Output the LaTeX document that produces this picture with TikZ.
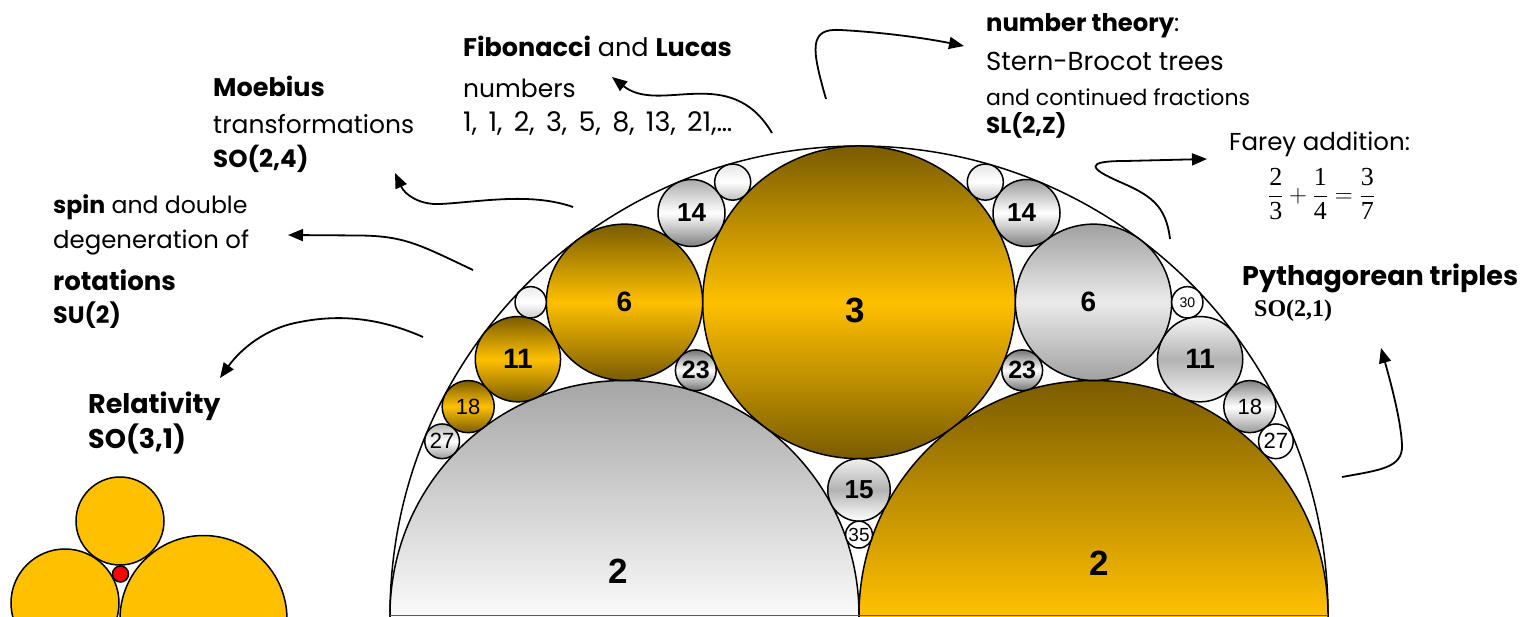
\documentclass[tikz,border=0pt]{standalone}
\usepackage{fontspec}
\setmainfont{Poppins}
\newfontfamily\arialf{Liberation Sans}
\newfontfamily\timesf{Liberation Serif}
\usetikzlibrary{arrows.meta}

\definecolor{goldD}{RGB}{122,92,0}
\definecolor{goldL}{RGB}{255,192,0}

\tikzset{
  disc/.style={circle, draw=black, line width=1.5pt, inner sep=0pt, outer sep=0pt, minimum size=#1},
  shd/.style n args={3}{top color=#1, bottom color=#3, middle color=#2},
  gold/.style={shd={goldD}{goldL}{goldD}},
  lb/.style={font=\arialf\bfseries\fontsize{#1}{#1}\selectfont, inner sep=0pt},
  lr/.style={font=\arialf\fontsize{#1}{#1}\selectfont, inner sep=0pt},
  txt/.style={anchor=base west, inner sep=0pt, font=\fontsize{#1}{#1}\selectfont},
  txt/.default=24,
  arr/.style={line width=1.8pt, -{Triangle[length=15pt,width=12pt]}},
}

\begin{document}
\begin{tikzpicture}[x=1pt, y=-1pt]
\useasboundingbox (0,0) rectangle (1529,616);
\clip (0,0) rectangle (1529,616);

% ---- circle packing ----
\node[disc=938pt] (outer) at (859,615) {};
\node[disc=469pt, shd={black!35}{black!2}{black!35}] (c2l) at (624.5,615) {};
\node[disc=469pt, gold] (c2r) at (1093.5,615) {};
\node[disc=312.7pt, gold] (c3) at (859,302.3) {};
\node[disc=156.3pt, gold] (c6l) at (624.5,302.3) {};
\node[disc=156.3pt, shd={black!37}{black!8}{black!37}] (c6r) at (1093.5,302.3) {};
\node[disc=85.3pt, gold] (c11l) at (517.9,359.2) {};
\node[disc=85.3pt, shd={black!4}{black!30}{black!4}] (c11r) at (1200.1,359.2) {};
\node[disc=67pt, shd={black!33}{white}{black!50}] (c14l) at (691.5,213) {};
\node[disc=67pt, shd={black!40}{white}{black!50}] (c14r) at (1026.5,213) {};
\node[disc=40.8pt, shd={black!55}{white}{black!55}] (c23l) at (695.8,370.3) {};
\node[disc=40.8pt, shd={black!55}{white}{black!55}] (c23r) at (1022.2,370.3) {};
\node[disc=52.1pt, gold] (c18l) at (468.2,406.6) {};
\node[disc=52.1pt, shd={black!50}{white}{black!40}] (c18r) at (1249.8,406.6) {};
\node[disc=34.7pt, shd={black!30}{white}{black!40}] (c27l) at (442.1,441.3) {};
\node[disc=34.7pt, fill=white] (c27r) at (1275.9,441.3) {};
\node[disc=62.5pt, shd={black!6}{black!30}{white}] (c15) at (859,489.9) {};
\node[disc=26.8pt, fill=white] (c35) at (859,534.6) {};
\node[disc=31.3pt, shd={black!8}{white}{black!20}] (c30l) at (530.7,302.3) {};
\node[disc=31.3pt, fill=white] (c30r) at (1187.3,302.3) {};
\node[disc=36.1pt, shd={black!10}{white}{black!25}] (c26l) at (732.7,182.1) {};
\node[disc=36.1pt, shd={black!10}{white}{black!25}] (c26r) at (985.3,182.1) {};
% cut edge of the half discs
\draw[line width=0.8pt, black!65] (outer.west) -- (outer.east);

% curvature labels
\node[lb=35] (t2l) at (618,571) {2};
\node[lb=35] (t2r) at (1099,563) {2};
\node[lb=35] (t3) at (855,310) {3};
\node[lb=28] (t6l) at (c6l) {6};
\node[lb=28] (t6r) at ([xshift=-5pt]c6r.center) {6};
\node[lb=28] (t11l) at (c11l) {11};
\node[lb=28] (t11r) at (c11r) {11};
\node[lb=26] (t14l) at (c14l) {14};
\node[lb=26] (t14r) at ([xshift=-5pt]c14r.center) {14};
\node[lb=25] (t23l) at (c23l) {23};
\node[lb=25] (t23r) at (c23r) {23};
\node[lr=22] (t18l) at (c18l) {18};
\node[lr=22] (t18r) at (c18r) {18};
\node[lr=22] (t27l) at (c27l) {27};
\node[lr=22] (t27r) at (c27r) {27};
\node[lb=26] (t15) at (c15) {15};
\node[lr=19] (t35) at (c35) {35};
\node[lr=14] (t30r) at (c30r) {30};

% ---- three touching discs ----
\node[disc=108pt, fill=goldL] (rB) at (65,603) {};
\node[disc=167pt, fill=goldL] (rC) at (203.5,619) {};
\node[disc=88pt, fill=goldL] (rA) at (120,521) {};
\node[disc=16pt, fill=red] (rD) at (120.5,574) {};

% ---- texts ----
\node[txt=25.5] (fib1) at (463,56) {\textbf{Fibonacci} and \textbf{Lucas}};
\node[txt=25] (fib2) at (463,97) {numbers};
\node[txt=27] (fib3) at (463,131) {\spaceskip=0.42em 1, 1, 2, 3, 5, 8, 13, 21,…};

\node[txt=24.3] (nt1) at (986,31) {\textbf{number theory}:};
\node[txt=26] (nt2) at (986,70) {Stern-Brocot trees};
\node[txt=22] (nt3) at (986,105) {and continued fractions};
\node[txt=23] (nt4) at (986,133) {\textbf{SL(2,Z)}};

\node[txt=24.5] (fa1) at (1229,150) {Farey addition:};
\node[anchor=base west, inner sep=0pt, font=\timesf\fontsize{26}{26}\selectfont]
  (fa2) at (1268,202) {$\displaystyle\frac{\hbox{2}}{\hbox{3}}+\frac{\hbox{1}}{\hbox{4}}=\frac{\hbox{3}}{\hbox{7}}$};

\node[txt=27] (py1) at (1242,285) {\textbf{Pythagorean triples}};
\node[anchor=base west, inner sep=0pt, font=\timesf\bfseries\fontsize{24}{24}\selectfont] (py2) at (1254,316) {SO(2,1)};

\node[txt=25.5] (mo1) at (213,96) {\textbf{Moebius}};
\node[txt=25] (mo2) at (213,133) {transformations};
\node[txt=24.5] (mo3) at (213,167) {\textbf{SO(2,4)}};

\node[txt=23.6] (sp1) at (53,213) {\textbf{spin} and double};
\node[txt=24.4] (sp2) at (53,248) {degeneration of};
\node[txt=26] (sp3) at (53,290) {\textbf{rotations}};
\node[txt=23.8] (sp4) at (53,323) {\textbf{SU(2)}};

\node[txt=27] (re1) at (88,413) {\textbf{Relativity}};
\node[txt=27] (re2) at (88,448) {\textbf{SO(3,1)}};

% ---- arrows ----
\coordinate (fibS) at (772,133);  \coordinate (fibT) at (612,77);
\coordinate (ntS) at (826,99);    \coordinate (ntT) at (964,46);
\coordinate (faS) at (1170,239);  \coordinate (faT) at (1207,159);
\coordinate (pyS) at (1342,477);  \coordinate (pyT) at (1381,348);
\coordinate (moS) at (573,207);   \coordinate (moT) at (395,173);
\coordinate (spS) at (473,270);   \coordinate (spT) at (288,235);
\coordinate (reS) at (423,337);   \coordinate (reT) at (220,378);

\draw[arr] (fibS) .. controls (730,62) and (660,115) .. (fibT);
\draw[arr] (ntS) .. controls (812,50) and (808,28) .. (840,30) .. controls (880,32) and (925,38) .. (ntT);
\draw[arr] (faS) .. controls (1166,205) and (1150,195) .. (1120,182) .. controls (1088,168) and (1085,161) .. (1125,161) -- (faT);
\draw[arr] (pyS) .. controls (1380,470) and (1403,468) .. (1402,445) .. controls (1401,420) and (1390,380) .. (pyT);
\draw[arr] (moS) .. controls (530,192) and (480,202) .. (440,204) .. controls (420,205) and (405,195) .. (moT);
\draw[arr] (spS) .. controls (420,245) and (405,236) .. (360,235.5) -- (spT);
\draw[arr] (reS) .. controls (380,318) and (340,314) .. (300,322) .. controls (265,328) and (240,350) .. (reT);
\end{tikzpicture}
\end{document}
